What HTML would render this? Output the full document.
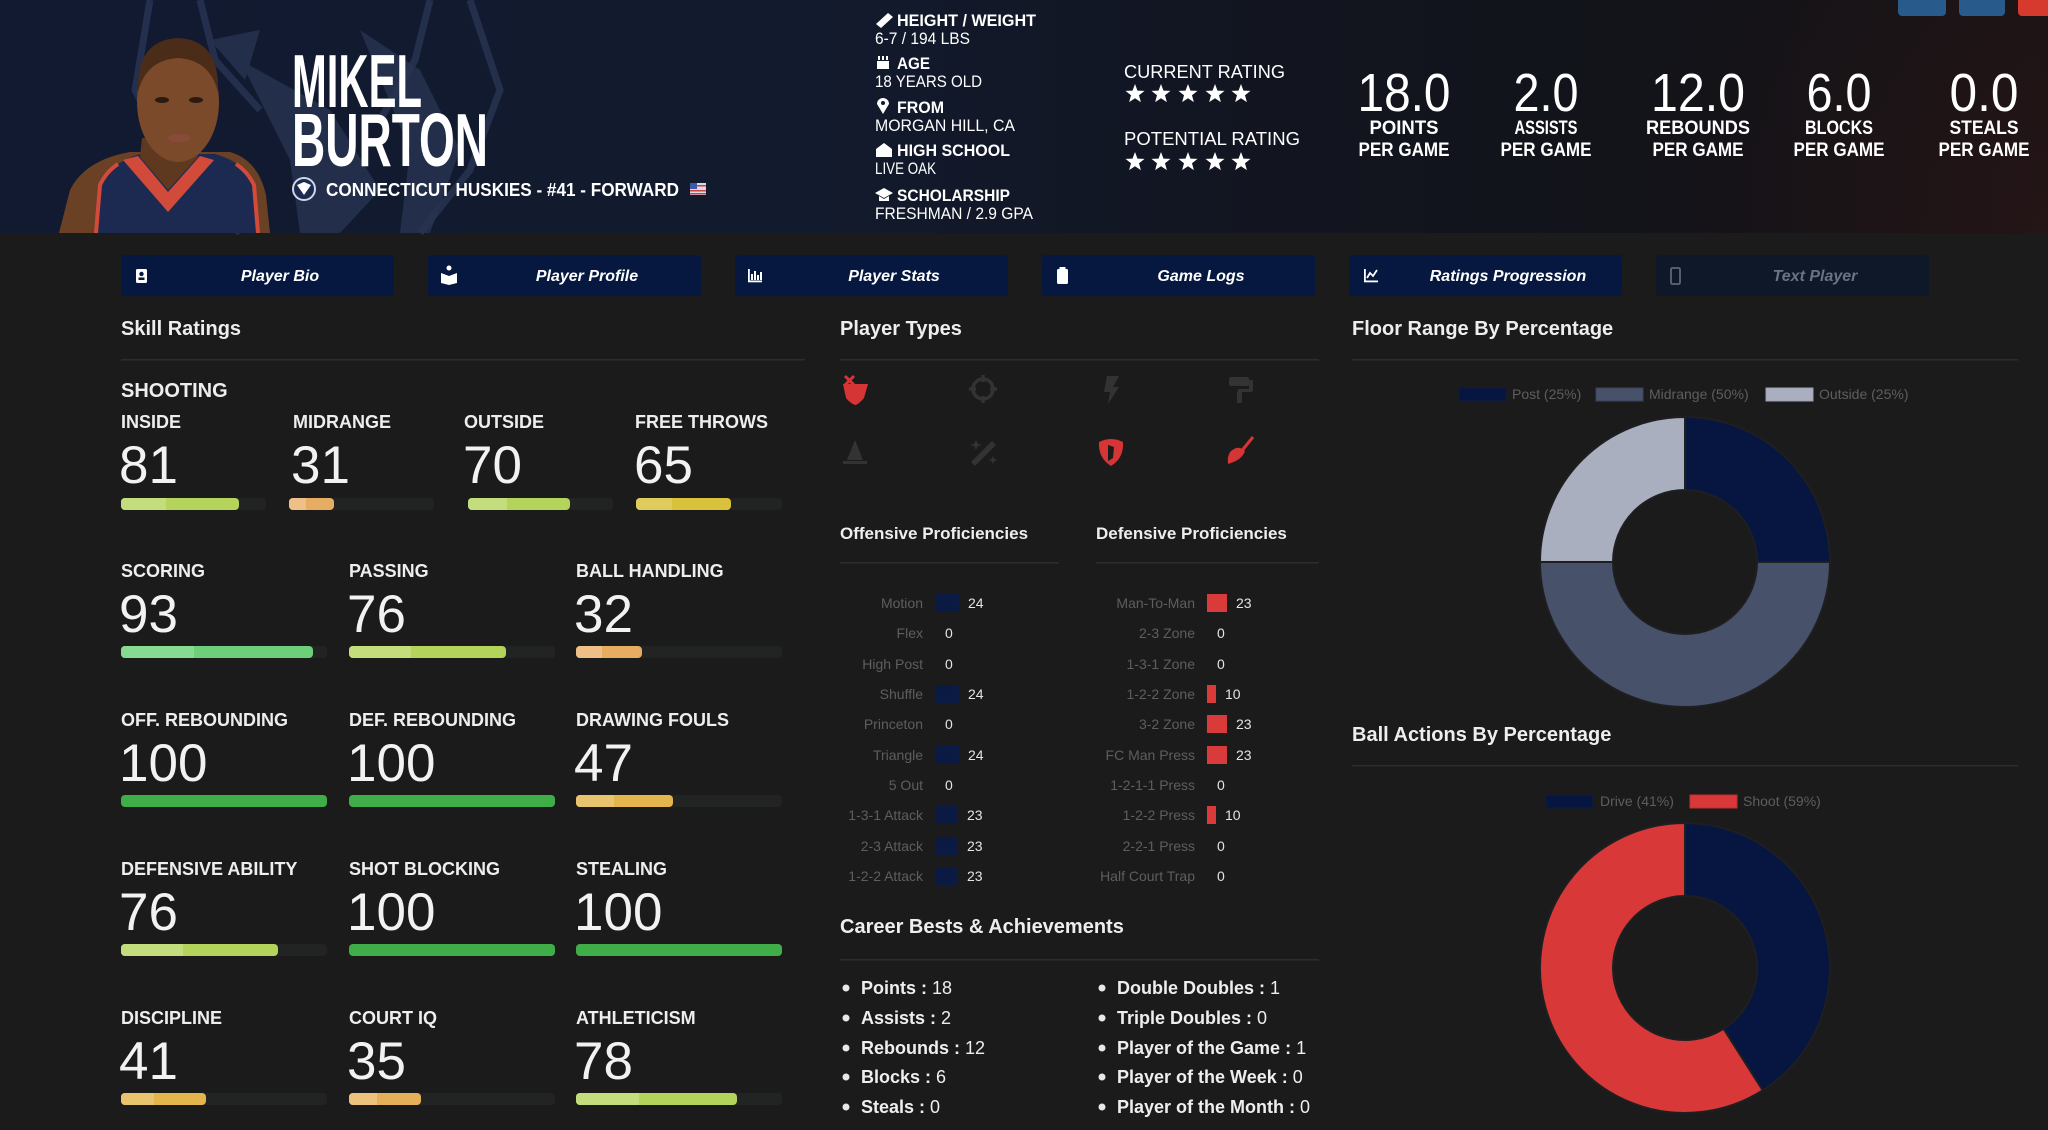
<!DOCTYPE html>
<html><head><meta charset="utf-8"><style>
html,body{margin:0;padding:0;background:#1b1b1b;width:2048px;height:1130px;overflow:hidden}
svg{display:block}
text{font-family:"Liberation Sans",Arial,sans-serif}
</style></head><body>
<svg width="2048" height="1130" viewBox="0 0 2048 1130" xmlns="http://www.w3.org/2000/svg">
<defs>
<linearGradient id="hg" x1="0" y1="0" x2="1" y2="0">
<stop offset="0" stop-color="#111a31"/><stop offset="0.4" stop-color="#121a2d"/>
<stop offset="0.62" stop-color="#121520"/><stop offset="0.85" stop-color="#131318"/>
<stop offset="1" stop-color="#181415"/></linearGradient>
<radialGradient id="rg" cx="2048" cy="233" r="420" gradientUnits="userSpaceOnUse">
<stop offset="0" stop-color="#5a1818" stop-opacity="0.18"/><stop offset="1" stop-color="#5a1818" stop-opacity="0"/></radialGradient>
<polygon id="st" points="0,-10 2.47,-3.4 9.51,-3.09 3.99,1.3 5.88,8.09 0,4.2 -5.88,8.09 -3.99,1.3 -9.51,-3.09 -2.47,-3.4" fill="#fff"/>
</defs>
<rect width="2048" height="1130" fill="#1b1b1b"/>
<!-- HEADER -->
<rect width="2048" height="233" fill="url(#hg)"/>
<rect width="2048" height="233" fill="url(#rg)"/>
<!-- wolf logo -->
<g fill="none" stroke="#263250" stroke-width="7" opacity="0.9">
<path d="M150 0 L135 90 L175 170 L240 233 M470 0 L500 90 L470 170 L420 233"/>
<path d="M200 0 L215 60 L260 110 M430 0 L415 60 L380 120"/>
</g>
<g fill="#27324f" opacity="0.85">
<path d="M240 60 L330 110 L380 190 L340 233 L300 233 L290 160 Z"/>
<path d="M360 30 L420 70 L460 150 L430 233 L400 233 L410 150 Z"/>
<path d="M210 40 L260 30 L245 80 Z"/>
</g>
<!-- player -->
<path d="M59 233 L70 190 Q85 160 130 152 L230 152 Q258 160 266 195 L270 233 Z" fill="#6a4125"/>
<path d="M96 233 L100 185 Q112 162 140 154 L215 154 Q245 162 252 185 L258 233 Z" fill="#1c2a52"/>
<path d="M96 233 L100 185 Q106 172 118 164" fill="none" stroke="#d24b3a" stroke-width="4"/>
<path d="M258 233 L254 185 Q248 172 236 164" fill="none" stroke="#d24b3a" stroke-width="4"/>
<path d="M123 160 L168 212 L214 160 L200 156 L168 192 L138 156 Z" fill="#d24b3a"/>
<path d="M140 157 L168 190 L198 157 L196 138 L142 138 Z" fill="#5e391f"/>
<ellipse cx="178" cy="102" rx="41" ry="60" fill="#7a4a2a"/>
<path d="M138 92 Q136 40 178 38 Q220 40 218 92 Q210 60 178 58 Q146 60 138 92 Z" fill="#4a2c18"/>
<ellipse cx="162" cy="100" rx="7" ry="3" fill="#2a1a10"/><ellipse cx="196" cy="100" rx="7" ry="3" fill="#2a1a10"/>
<ellipse cx="179" cy="138" rx="11" ry="4" fill="#8a4a3a"/>
<!-- name -->
<text x="292" y="107" font-size="75" font-weight="bold" fill="#fff" textLength="130" lengthAdjust="spacingAndGlyphs">MIKEL</text>
<text x="292" y="166" font-size="75" font-weight="bold" fill="#fff" textLength="196" lengthAdjust="spacingAndGlyphs">BURTON</text>
<circle cx="304" cy="189" r="11" fill="#1c2a52" stroke="#cfd6e6" stroke-width="2"/>
<path d="M297 185 L304 195 L311 185 L304 182 Z" fill="#fff"/>
<text x="326" y="196" font-size="18" font-weight="bold" fill="#fff" textLength="353" lengthAdjust="spacingAndGlyphs">CONNECTICUT HUSKIES - #41 - FORWARD</text>
<rect x="690" y="183" width="16" height="12" fill="#d9dbe6"/><rect x="690" y="183" width="7" height="6" fill="#3b5aa8"/>
<rect x="697" y="185" width="9" height="1.5" fill="#d04040"/><rect x="690" y="190" width="16" height="1.5" fill="#d04040"/><rect x="690" y="193" width="16" height="1.5" fill="#d04040"/>
<!-- bio -->
<g fill="#fff" font-size="17">
<path d="M876 24 L888 13 L893 17 L881 28 Z" fill="#fff"/>
<text x="897" y="26" font-weight="bold" textLength="139" lengthAdjust="spacingAndGlyphs">HEIGHT / WEIGHT</text>
<text x="875" y="44" textLength="95" lengthAdjust="spacingAndGlyphs">6-7 / 194 LBS</text>
<rect x="877" y="61" width="12" height="8" fill="#fff"/><rect x="878" y="56" width="2" height="4"/><rect x="882" y="56" width="2" height="4"/><rect x="886" y="56" width="2" height="4"/>
<text x="897" y="69" font-weight="bold" textLength="33" lengthAdjust="spacingAndGlyphs">AGE</text>
<text x="875" y="87" textLength="107" lengthAdjust="spacingAndGlyphs">18 YEARS OLD</text>
<path d="M883 114 L877 104 A6 6 0 1 1 889 104 Z"/><circle cx="883" cy="103" r="2" fill="#121a2d"/>
<text x="897" y="113" font-weight="bold" textLength="47" lengthAdjust="spacingAndGlyphs">FROM</text>
<text x="875" y="131" textLength="140" lengthAdjust="spacingAndGlyphs">MORGAN HILL, CA</text>
<path d="M876 157 L876 149 L884 143 L892 149 L892 157 Z"/>
<text x="897" y="156" font-weight="bold" textLength="113" lengthAdjust="spacingAndGlyphs">HIGH SCHOOL</text>
<text x="875" y="174" textLength="61" lengthAdjust="spacingAndGlyphs">LIVE OAK</text>
<path d="M875 193 L884 188 L893 193 L884 198 Z"/><path d="M879 196 L879 201 L889 201 L889 196 L884 199 Z"/>
<text x="897" y="201" font-weight="bold" textLength="113" lengthAdjust="spacingAndGlyphs">SCHOLARSHIP</text>
<text x="875" y="219" textLength="158" lengthAdjust="spacingAndGlyphs">FRESHMAN / 2.9 GPA</text>
</g>
<!-- ratings -->
<text x="1124" y="78" font-size="18" fill="#fff" textLength="161" lengthAdjust="spacingAndGlyphs">CURRENT RATING</text>
<use href="#st" x="1135" y="94"/><use href="#st" x="1161" y="94"/><use href="#st" x="1188" y="94"/><use href="#st" x="1215" y="94"/><use href="#st" x="1241" y="94"/>
<text x="1124" y="145" font-size="18" fill="#fff" textLength="176" lengthAdjust="spacingAndGlyphs">POTENTIAL RATING</text>
<use href="#st" x="1135" y="162"/><use href="#st" x="1161" y="162"/><use href="#st" x="1188" y="162"/><use href="#st" x="1215" y="162"/><use href="#st" x="1241" y="162"/>
<!-- stats -->
<g fill="#fff" text-anchor="middle">
<text x="1404" y="111" font-size="54" textLength="93" lengthAdjust="spacingAndGlyphs">18.0</text>
<text x="1404" y="134" font-size="19" font-weight="bold" textLength="69" lengthAdjust="spacingAndGlyphs">POINTS</text>
<text x="1404" y="156" font-size="19" font-weight="bold" textLength="91" lengthAdjust="spacingAndGlyphs">PER GAME</text>
<text x="1546" y="111" font-size="54" textLength="65" lengthAdjust="spacingAndGlyphs">2.0</text>
<text x="1546" y="134" font-size="19" font-weight="bold" textLength="63" lengthAdjust="spacingAndGlyphs">ASSISTS</text>
<text x="1546" y="156" font-size="19" font-weight="bold" textLength="91" lengthAdjust="spacingAndGlyphs">PER GAME</text>
<text x="1698" y="111" font-size="54" textLength="94" lengthAdjust="spacingAndGlyphs">12.0</text>
<text x="1698" y="134" font-size="19" font-weight="bold" textLength="104" lengthAdjust="spacingAndGlyphs">REBOUNDS</text>
<text x="1698" y="156" font-size="19" font-weight="bold" textLength="91" lengthAdjust="spacingAndGlyphs">PER GAME</text>
<text x="1839" y="111" font-size="54" textLength="65" lengthAdjust="spacingAndGlyphs">6.0</text>
<text x="1839" y="134" font-size="19" font-weight="bold" textLength="68" lengthAdjust="spacingAndGlyphs">BLOCKS</text>
<text x="1839" y="156" font-size="19" font-weight="bold" textLength="91" lengthAdjust="spacingAndGlyphs">PER GAME</text>
<text x="1984" y="111" font-size="54" textLength="69" lengthAdjust="spacingAndGlyphs">0.0</text>
<text x="1984" y="134" font-size="19" font-weight="bold" textLength="69" lengthAdjust="spacingAndGlyphs">STEALS</text>
<text x="1984" y="156" font-size="19" font-weight="bold" textLength="91" lengthAdjust="spacingAndGlyphs">PER GAME</text>
</g>
<rect x="1898" y="-5" width="48" height="21" rx="4" fill="#285a8b"/>
<rect x="1959" y="-5" width="46" height="21" rx="4" fill="#285a8b"/>
<rect x="2018" y="-5" width="40" height="21" rx="4" fill="#d63a2f"/>
<!-- NAV BUTTONS -->
<g>
<rect x="121" y="255" width="273" height="41" rx="3" fill="#061840"/>
<rect x="428" y="255" width="273" height="41" rx="3" fill="#061840"/>
<rect x="735" y="255" width="273" height="41" rx="3" fill="#061840"/>
<rect x="1042" y="255" width="273" height="41" rx="3" fill="#061840"/>
<rect x="1349" y="255" width="273" height="41" rx="3" fill="#061840"/>
<rect x="1656" y="255" width="273" height="41" rx="3" fill="#0f1829"/>
</g>
<g fill="#fff">
<rect x="136" y="269" width="11" height="14" rx="1.5"/><circle cx="141.5" cy="274" r="2.2" fill="#061840"/><rect x="138.5" y="277.5" width="6" height="2.5" fill="#061840"/>
<circle cx="449" cy="268" r="2.5"/><path d="M441 273 L449 276 L457 273 L457 283 L449 285 L441 283 Z"/>
<rect x="748" y="269" width="1.8" height="13"/><rect x="748" y="280.5" width="14" height="1.8"/><rect x="751" y="274" width="2" height="6"/><rect x="754" y="271" width="2" height="9"/><rect x="757" y="275" width="2" height="5"/><rect x="760" y="272" width="2" height="8"/>
<rect x="1057" y="269" width="11" height="15" rx="1.5"/><rect x="1059.5" y="267" width="6" height="3.5"/>
<rect x="1364" y="269" width="1.8" height="13"/><rect x="1364" y="280.5" width="14" height="1.8"/><path d="M1367 278 L1370 273 L1373 276 L1377 270" fill="none" stroke="#fff" stroke-width="1.8"/>
<rect x="1671" y="268" width="9" height="16" rx="1.5" fill="none" stroke="#5d6678" stroke-width="1.8"/>
</g>
<g font-size="16" font-weight="bold" font-style="italic" fill="#fff" text-anchor="middle">
<text x="280" y="281">Player Bio</text>
<text x="587" y="281">Player Profile</text>
<text x="894" y="281">Player Stats</text>
<text x="1201" y="281">Game Logs</text>
<text x="1508" y="281">Ratings Progression</text>
<text x="1815" y="281" fill="#6a7284">Text Player</text>
</g>
<!-- SECTION HEADINGS -->
<g font-size="20" font-weight="bold" fill="#eee">
<text x="121" y="335">Skill Ratings</text>
<text x="840" y="335">Player Types</text>
<text x="1352" y="335">Floor Range By Percentage</text>
<text x="1352" y="741">Ball Actions By Percentage</text>
<text x="840" y="933">Career Bests &amp; Achievements</text>
</g>
<g fill="#2d2d2d">
<rect x="121" y="359" width="684" height="1.5"/>
<rect x="840" y="359" width="479" height="1.5"/>
<rect x="1352" y="359" width="666" height="1.5"/>
<rect x="1352" y="765" width="666" height="1.5"/>
<rect x="840" y="562" width="219" height="1.5"/>
<rect x="1096" y="562" width="223" height="1.5"/>
<rect x="840" y="959" width="479" height="1.5"/>
</g>
<!-- SKILLS -->
<text x="121" y="397" font-size="20" font-weight="bold" fill="#eee">SHOOTING</text>
<g font-size="18" font-weight="bold" fill="#eee">
<text x="121" y="428">INSIDE</text><text x="293" y="428">MIDRANGE</text><text x="464" y="428">OUTSIDE</text><text x="635" y="428">FREE THROWS</text>
<text x="121" y="577">SCORING</text><text x="349" y="577">PASSING</text><text x="576" y="577">BALL HANDLING</text>
<text x="121" y="726">OFF. REBOUNDING</text><text x="349" y="726">DEF. REBOUNDING</text><text x="576" y="726">DRAWING FOULS</text>
<text x="121" y="875">DEFENSIVE ABILITY</text><text x="349" y="875">SHOT BLOCKING</text><text x="576" y="875">STEALING</text>
<text x="121" y="1024">DISCIPLINE</text><text x="349" y="1024">COURT IQ</text><text x="576" y="1024">ATHLETICISM</text>
</g>
<g font-size="53" fill="#f2f2f2">
<text x="119" y="483">81</text><text x="291" y="483">31</text><text x="463" y="483">70</text><text x="634" y="483">65</text>
<text x="119" y="632">93</text><text x="347" y="632">76</text><text x="574" y="632">32</text>
<text x="119" y="781">100</text><text x="347" y="781">100</text><text x="574" y="781">47</text>
<text x="119" y="930">76</text><text x="347" y="930">100</text><text x="574" y="930">100</text>
<text x="119" y="1079">41</text><text x="347" y="1079">35</text><text x="574" y="1079">78</text>
</g>
<!-- bars bg -->
<g fill="#222424">
<rect x="121" y="498" width="145" height="12" rx="4"/><rect x="289" y="498" width="145" height="12" rx="4"/><rect x="468" y="498" width="145" height="12" rx="4"/><rect x="636" y="498" width="146" height="12" rx="4"/>
<rect x="121" y="646" width="206" height="12" rx="4"/><rect x="349" y="646" width="206" height="12" rx="4"/><rect x="576" y="646" width="206" height="12" rx="4"/>
<rect x="121" y="795" width="206" height="12" rx="4"/><rect x="349" y="795" width="206" height="12" rx="4"/><rect x="576" y="795" width="206" height="12" rx="4"/>
<rect x="121" y="944" width="206" height="12" rx="4"/><rect x="349" y="944" width="206" height="12" rx="4"/><rect x="576" y="944" width="206" height="12" rx="4"/>
<rect x="121" y="1093" width="206" height="12" rx="4"/><rect x="349" y="1093" width="206" height="12" rx="4"/><rect x="576" y="1093" width="206" height="12" rx="4"/>
</g>
<g>
<rect x="121" y="498" width="118" height="12" rx="4" fill="#b3d35a"/><rect x="121" y="498" width="45" height="12" rx="4" fill="#c3dd7c"/><rect x="126" y="498" width="40" height="12" fill="#c3dd7c"/>
<rect x="289" y="498" width="45" height="12" rx="4" fill="#e6ac62"/><rect x="289" y="498" width="17" height="12" rx="4" fill="#eec088"/><rect x="294" y="498" width="12" height="12" fill="#eec088"/>
<rect x="468" y="498" width="102" height="12" rx="4" fill="#b3d35a"/><rect x="468" y="498" width="39" height="12" rx="4" fill="#c3dd7c"/><rect x="473" y="498" width="34" height="12" fill="#c3dd7c"/>
<rect x="636" y="498" width="95" height="12" rx="4" fill="#d9c13b"/><rect x="636" y="498" width="36" height="12" rx="4" fill="#e0cc5e"/><rect x="641" y="498" width="31" height="12" fill="#e0cc5e"/>

<rect x="121" y="646" width="192" height="12" rx="4" fill="#6dcf79"/><rect x="121" y="646" width="73" height="12" rx="4" fill="#87da91"/><rect x="126" y="646" width="68" height="12" fill="#87da91"/>
<rect x="349" y="646" width="157" height="12" rx="4" fill="#b3d35a"/><rect x="349" y="646" width="62" height="12" rx="4" fill="#c3dd7c"/><rect x="354" y="646" width="57" height="12" fill="#c3dd7c"/>
<rect x="576" y="646" width="66" height="12" rx="4" fill="#e6ac62"/><rect x="576" y="646" width="26" height="12" rx="4" fill="#eec088"/><rect x="581" y="646" width="21" height="12" fill="#eec088"/>

<rect x="121" y="795" width="206" height="12" rx="4" fill="#3fae49"/>
<rect x="349" y="795" width="206" height="12" rx="4" fill="#3fae49"/>
<rect x="576" y="795" width="97" height="12" rx="4" fill="#e3b54c"/><rect x="576" y="795" width="38" height="12" rx="4" fill="#e9c46e"/><rect x="581" y="795" width="33" height="12" fill="#e9c46e"/>

<rect x="121" y="944" width="157" height="12" rx="4" fill="#b3d35a"/><rect x="121" y="944" width="62" height="12" rx="4" fill="#c3dd7c"/><rect x="126" y="944" width="57" height="12" fill="#c3dd7c"/>
<rect x="349" y="944" width="206" height="12" rx="4" fill="#3fae49"/>
<rect x="576" y="944" width="206" height="12" rx="4" fill="#3fae49"/>

<rect x="121" y="1093" width="85" height="12" rx="4" fill="#e3b54c"/><rect x="121" y="1093" width="33" height="12" rx="4" fill="#e9c46e"/><rect x="126" y="1093" width="28" height="12" fill="#e9c46e"/>
<rect x="349" y="1093" width="72" height="12" rx="4" fill="#e6b05a"/><rect x="349" y="1093" width="28" height="12" rx="4" fill="#ecc27c"/><rect x="354" y="1093" width="23" height="12" fill="#ecc27c"/>
<rect x="576" y="1093" width="161" height="12" rx="4" fill="#b3d35a"/><rect x="576" y="1093" width="63" height="12" rx="4" fill="#c3dd7c"/><rect x="581" y="1093" width="58" height="12" fill="#c3dd7c"/>
</g>
<!-- PLAYER TYPE ICONS -->
<g fill="#d63535">
<path d="M843 384 L868 384 L864 398 Q858 405 855 405 Q850 403 846 398 Z"/>
<path d="M845 376 L854 385 M854 376 L845 385" stroke="#d63535" stroke-width="3"/>
</g>
<g fill="none" stroke="#333" stroke-width="3.5">
<circle cx="983" cy="389" r="10"/><path d="M983 375 L983 382 M983 396 L983 403 M969 389 L976 389 M990 389 L997 389"/>
</g>
<path d="M1107 376 L1119 376 L1113 387 L1119 387 L1108 404 L1110 392 L1104 392 Z" fill="#333"/>
<g fill="#333"><rect x="1229" y="377" width="20" height="9" rx="2"/><rect x="1249" y="380" width="4" height="11"/><rect x="1238" y="389" width="14" height="3"/><rect x="1237" y="391" width="5" height="12" rx="1"/></g>
<g fill="#333"><path d="M855 440 L847 460 L863 460 Z"/><rect x="843" y="461" width="24" height="3"/></g>
<g fill="#333"><path d="M971 462 L992 441 L996 445 L975 466 Z"/><path d="M976 440 l2 4 l4 1 l-4 1 l-2 4 l-2 -4 l-4 -1 l4 -1 Z"/><path d="M993 456 l1.5 3 l3 1 l-3 1 l-1.5 3 l-1.5 -3 l-3 -1 l3 -1 Z"/></g>
<path d="M1099 442 Q1111 436 1123 442 Q1124 458 1111 466 Q1098 458 1099 442 Z" fill="#d63535"/>
<path d="M1108 445 L1114 447 L1113 458 L1108 461 Z" fill="#1b1b1b"/>
<g fill="#d63535"><path d="M1253 437 L1240 453" stroke="#d63535" stroke-width="3"/><path d="M1230 452 Q1238 444 1245 451 Q1242 460 1228 464 Q1227 457 1230 452 Z"/></g>
<!-- PROFICIENCIES -->
<text x="840" y="539" font-size="17" font-weight="bold" fill="#eee">Offensive Proficiencies</text>
<text x="1096" y="539" font-size="17" font-weight="bold" fill="#eee">Defensive Proficiencies</text>
<g font-size="14" fill="#5e5e5e" text-anchor="end">
<text x="923" y="608">Motion</text><text x="923" y="638">Flex</text><text x="923" y="669">High Post</text><text x="923" y="699">Shuffle</text><text x="923" y="729">Princeton</text><text x="923" y="760">Triangle</text><text x="923" y="790">5 Out</text><text x="923" y="820">1-3-1 Attack</text><text x="923" y="851">2-3 Attack</text><text x="923" y="881">1-2-2 Attack</text>
<text x="1195" y="608">Man-To-Man</text><text x="1195" y="638">2-3 Zone</text><text x="1195" y="669">1-3-1 Zone</text><text x="1195" y="699">1-2-2 Zone</text><text x="1195" y="729">3-2 Zone</text><text x="1195" y="760">FC Man Press</text><text x="1195" y="790">1-2-1-1 Press</text><text x="1195" y="820">1-2-2 Press</text><text x="1195" y="851">2-2-1 Press</text><text x="1195" y="881">Half Court Trap</text>
</g>
<g fill="#0b1a42">
<rect x="936" y="594" width="23" height="18"/><rect x="936" y="685" width="23" height="18"/><rect x="936" y="746" width="23" height="18"/><rect x="936" y="806" width="22" height="18"/><rect x="936" y="837" width="22" height="18"/><rect x="936" y="867" width="22" height="18"/>
</g>
<g fill="#d93a3a">
<rect x="1207" y="594" width="20" height="18"/><rect x="1207" y="685" width="9" height="18"/><rect x="1207" y="715" width="20" height="18"/><rect x="1207" y="746" width="20" height="18"/><rect x="1207" y="806" width="9" height="18"/>
</g>
<g font-size="14" fill="#e4e4e4">
<text x="968" y="608">24</text><text x="945" y="638">0</text><text x="945" y="669">0</text><text x="968" y="699">24</text><text x="945" y="729">0</text><text x="968" y="760">24</text><text x="945" y="790">0</text><text x="967" y="820">23</text><text x="967" y="851">23</text><text x="967" y="881">23</text>
<text x="1236" y="608">23</text><text x="1217" y="638">0</text><text x="1217" y="669">0</text><text x="1225" y="699">10</text><text x="1236" y="729">23</text><text x="1236" y="760">23</text><text x="1217" y="790">0</text><text x="1225" y="820">10</text><text x="1217" y="851">0</text><text x="1217" y="881">0</text>
</g>
<!-- CAREER -->
<g fill="#e8e8e8">
<circle cx="846" cy="988" r="3.5"/><circle cx="846" cy="1018" r="3.5"/><circle cx="846" cy="1048" r="3.5"/><circle cx="846" cy="1077" r="3.5"/><circle cx="846" cy="1107" r="3.5"/>
<circle cx="1102" cy="988" r="3.5"/><circle cx="1102" cy="1018" r="3.5"/><circle cx="1102" cy="1048" r="3.5"/><circle cx="1102" cy="1077" r="3.5"/><circle cx="1102" cy="1107" r="3.5"/>
</g>
<g font-size="18" fill="#eee">
<text x="861" y="994"><tspan font-weight="bold">Points : </tspan>18</text>
<text x="861" y="1024"><tspan font-weight="bold">Assists : </tspan>2</text>
<text x="861" y="1054"><tspan font-weight="bold">Rebounds : </tspan>12</text>
<text x="861" y="1083"><tspan font-weight="bold">Blocks : </tspan>6</text>
<text x="861" y="1113"><tspan font-weight="bold">Steals : </tspan>0</text>
<text x="1117" y="994"><tspan font-weight="bold">Double Doubles : </tspan>1</text>
<text x="1117" y="1024"><tspan font-weight="bold">Triple Doubles : </tspan>0</text>
<text x="1117" y="1054"><tspan font-weight="bold">Player of the Game : </tspan>1</text>
<text x="1117" y="1083"><tspan font-weight="bold">Player of the Week : </tspan>0</text>
<text x="1117" y="1113"><tspan font-weight="bold">Player of the Month : </tspan>0</text>
</g>
<!-- FLOOR RANGE DONUT -->
<g font-size="14" fill="#5e5e5e">
<rect x="1459" y="388" width="47" height="13" fill="#061640" stroke="#0e1c3a"/><text x="1512" y="399">Post (25%)</text>
<rect x="1596" y="388" width="47" height="13" fill="#475169" stroke="#3a4358"/><text x="1649" y="399">Midrange (50%)</text>
<rect x="1766" y="388" width="47" height="13" fill="#a9afbf" stroke="#9aa0b0"/><text x="1819" y="399">Outside (25%)</text>
</g>
<g stroke="#1f1f22" stroke-width="2">
<path d="M1685 417 A145 145 0 0 1 1830 562 L1757 562 A72 72 0 0 0 1685 490 Z" fill="#061640"/>
<path d="M1830 562 A145 145 0 0 1 1540 562 L1613 562 A72 72 0 0 0 1757 562 Z" fill="#475169"/>
<path d="M1540 562 A145 145 0 0 1 1685 417 L1685 490 A72 72 0 0 0 1613 562 Z" fill="#a9afbf"/>
</g>
<!-- BALL ACTIONS DONUT -->
<g font-size="14" fill="#5e5e5e">
<rect x="1546" y="795" width="47" height="13" fill="#061640" stroke="#0e1c3a"/><text x="1600" y="806">Drive (41%)</text>
<rect x="1690" y="795" width="47" height="13" fill="#d83838" stroke="#c03030"/><text x="1743" y="806">Shoot (59%)</text>
</g>
<g stroke="#1f1f22" stroke-width="2">
<path d="M1685 823 A145 145 0 0 1 1762.7 1090.4 L1723.6 1028.8 A72 72 0 0 0 1685 896 Z" fill="#061640"/>
<path d="M1762.7 1090.4 A145 145 0 1 1 1685 823 L1685 896 A72 72 0 1 0 1723.6 1028.8 Z" fill="#d83838"/>
</g>
</svg>
</body></html>
